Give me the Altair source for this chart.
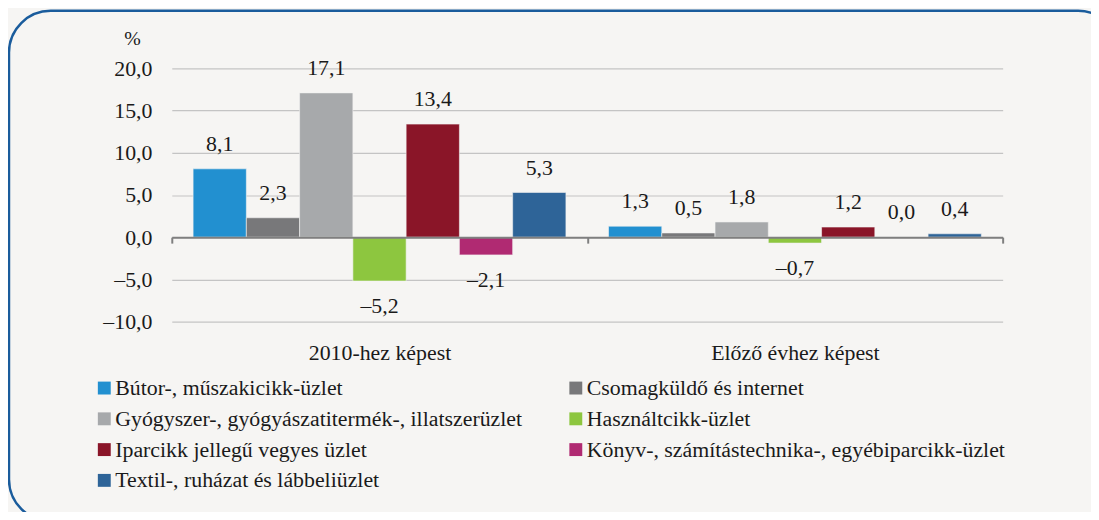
import altair as alt
import pandas as pd

categories = ["2010-hez képest", "Előző évhez képest"]
series = [
    "Bútor-, műszakicikk-üzlet",
    "Csomagküldő és internet",
    "Gyógyszer-, gyógyászatitermék-, illatszerüzlet",
    "Használtcikk-üzlet",
    "Iparcikk jellegű vegyes üzlet",
    "Könyv-, számítástechnika-, egyébiparcikk-üzlet",
    "Textil-, ruházat és lábbeliüzlet",
]
values_2010 = [8.1, 2.3, 17.1, -5.2, 13.4, -2.1, 5.3]
values_prev = [1.3, 0.5, 1.8, -0.7, 1.2, 0.0, 0.4]
colors = ["#2290D0", "#78787A", "#A7A9AB", "#8DC63F", "#8A1528", "#B02A72", "#2E6498"]
y_ticks = [-10, -5, 0, 5, 10, 15, 20]

FONT = "Liberation Serif"
TXT = "#1a1a1a"


def fmt(v):
    s = f"{abs(v):.1f}".replace(".", ",")
    return ("–" + s) if v < 0 else s


rows = []
for cat, vals in zip(categories, [values_2010, values_prev]):
    for s, v in zip(series, vals):
        rows.append({"group": cat, "series": s, "value": v, "label": fmt(v)})
df = pd.DataFrame(rows)

base = alt.Chart(df).encode(
    x=alt.X(
        "group:N",
        sort=categories,
        scale=alt.Scale(paddingInner=0, paddingOuter=0),
        axis=alt.Axis(
            title=None,
            labelAngle=0,
            offset=-85,
            domain=True,
            domainColor="#7F7F7F",
            domainWidth=2,
            ticks=True,
            tickBand="extent",
            tickSize=6,
            tickColor="#7F7F7F",
            tickWidth=2,
            labelPadding=100,
            labelFontSize=22,
            labelFont=FONT,
            labelColor=TXT,
            zindex=1,
        ),
    ),
    xOffset=alt.XOffset(
        "series:N", sort=series, scale=alt.Scale(paddingOuter=0.4, paddingInner=0)
    ),
)

bars = base.mark_bar(stroke="#F2F2F2", strokeWidth=0.6).encode(
    y=alt.Y(
        "value:Q",
        scale=alt.Scale(domain=[-10, 20], nice=False, zero=False),
        axis=alt.Axis(
            values=y_ticks,
            labelExpr="(datum.value < 0 ? '–' : '') + replace(format(abs(datum.value), '.1f'), '.', ',')",
            grid=True,
            gridColor="#C4C4C4",
            gridWidth=1.2,
            domain=False,
            ticks=False,
            labelPadding=20,
            labelFontSize=22,
            labelFont=FONT,
            labelColor=TXT,
            title="%",
            titleAngle=0,
            titleX=-40,
            titleY=-30,
            titleAlign="center",
            titleBaseline="middle",
            titleFontWeight="normal",
            titleFontSize=20,
            titleFont=FONT,
            titleColor=TXT,
        ),
    ),
    color=alt.Color(
        "series:N",
        sort=series,
        scale=alt.Scale(domain=series, range=colors),
        legend=alt.Legend(
            title=None,
            orient="none",
            direction="horizontal",
            legendX=-79,
            legendY=311,
            columns=2,
            columnPadding=42,
            rowPadding=9,
            symbolType="square",
            symbolSize=169,
            symbolStrokeWidth=0,
            labelFontSize=22,
            labelFont=FONT,
            labelColor=TXT,
            labelOffset=0,
            labelLimit=800,
            padding=0,
        ),
    ),
)

text_pos = base.mark_text(
    dy=-25, baseline="middle", fontSize=22, font=FONT, color=TXT
).encode(y=alt.Y("value:Q"), text="label:N").transform_filter("datum.value >= 0")

text_neg = base.mark_text(
    dy=25, baseline="middle", fontSize=22, font=FONT, color=TXT
).encode(y=alt.Y("value:Q"), text="label:N").transform_filter("datum.value < 0")

border = alt.Chart(pd.DataFrame({"a": [0]})).mark_rect(
    fillOpacity=0, stroke="#1A5C9C", strokeWidth=2.5, cornerRadius=42
).encode(
    x=alt.value(-164), x2=alt.value(955), y=alt.value(-58), y2=alt.value(456)
)

chart = (
    alt.layer(bars, text_pos, text_neg, border)
    .properties(
        width=837,
        height=255,
        autosize=alt.AutoSizeParams(type="none"),
        padding={"left": 165, "top": 59, "right": 89, "bottom": 190},
        background="#F6F5F3",
    )
    .configure_view(stroke=None)
)

chart.save("out.html", embed_options={"renderer": "svg", "actions": False})
